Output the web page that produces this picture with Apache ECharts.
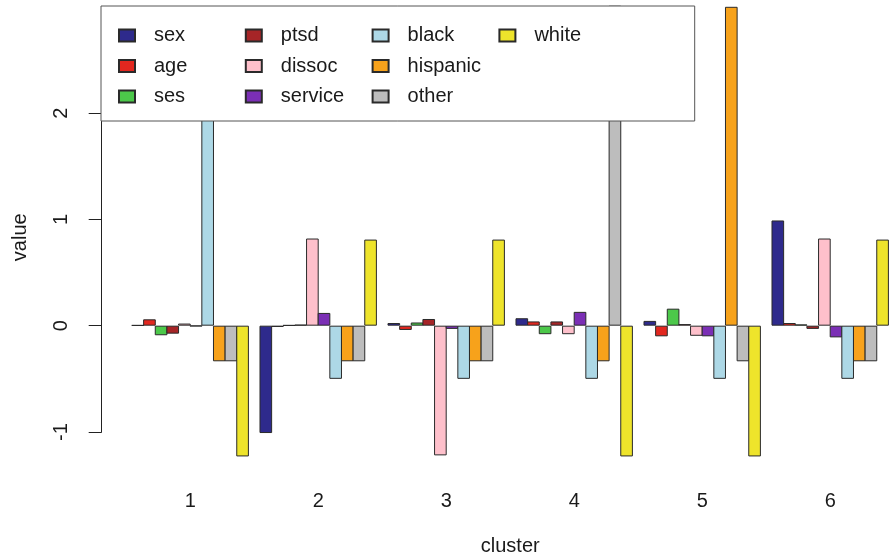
<!DOCTYPE html>
<html>
<head>
<meta charset="utf-8">
<script src="https://cdn.jsdelivr.net/npm/echarts@6/dist/echarts.min.js"></script>
<style>
  html, body { margin: 0; padding: 0; background: #fff; }
  #chart { width: 889px; height: 559px; }
</style>
</head>
<body>
<div id="chart"></div>
<script>
// Cluster profiles: standardized mean of each variable per cluster
const clusters = ['1', '2', '3', '4', '5', '6'];
const yTicks = [-1, 0, 1, 2];

const sex      = [0.005, -1.01, 0.025, 0.07, 0.045, 0.99];
const age      = [0.06, -0.012, -0.04, 0.04, -0.10, 0.025];
const ses      = [-0.09, 0.005, 0.03, -0.08, 0.16, 0.012];
const ptsd     = [-0.075, 0.01, 0.063, 0.04, 0.015, -0.03];
const dissoc   = [0.02, 0.82, -1.22, -0.08, -0.095, 0.82];
const service  = [-0.005, 0.12, -0.03, 0.13, -0.10, -0.11];
const black    = [2.0, -0.5, -0.5, -0.5, -0.5, -0.5];
const hispanic = [-0.335, -0.335, -0.335, -0.335, 3.0, -0.335];
const other    = [-0.335, -0.335, -0.335, 3.01, -0.335, -0.335];
const white    = [-1.23, 0.81, 0.81, -1.23, -1.23, 0.81];

const seriesNames  = ['sex', 'age', 'ses', 'ptsd', 'dissoc', 'service', 'black', 'hispanic', 'other', 'white'];
const seriesValues = [sex, age, ses, ptsd, dissoc, service, black, hispanic, other, white];
const seriesColors = ['#2e2a8c', '#e2271f', '#4cc84a', '#a62527', '#fec0cb',
                      '#7b2fb5', '#add8e6', '#f7a21b', '#bdbdbd', '#eee42b'];

const FONT = "'Liberation Sans', Arial, Helvetica, sans-serif";
const INK = '#1a1a1a';

const chart = echarts.init(document.getElementById('chart'), null, { renderer: 'canvas' });

// Neighbouring bars overlap by one border width so that they share a single outline
const series = seriesNames.map((name, i) => ({
  name: name,
  type: 'bar',
  xAxisIndex: 0,
  yAxisIndex: 0,
  data: seriesValues[i],
  barGap: '-7.91%',
  barCategoryGap: '8.28%',
  itemStyle: { color: seriesColors[i], borderColor: '#2a2a2a', borderWidth: 1 },
  emphasis: { disabled: true },
  silent: true,
  clip: false
}));

chart.setOption({
  animation: false,
  backgroundColor: '#fff',
  textStyle: { fontFamily: FONT },
  grid: [
    // bar area: one band per cluster
    { left: 126.2, right: -5.2, top: 0, bottom: 84.5, containLabel: false, outerBoundsMode: 'none' },
    // y axis drawn only over the tick range
    { left: 101.7, right: -29.8, top: 113.1, bottom: 127, containLabel: false, outerBoundsMode: 'none' }
  ],
  xAxis: [
    {
      gridIndex: 0,
      type: 'category',
      data: clusters,
      axisLine: { show: false },
      axisTick: { show: false },
      splitLine: { show: false },
      axisLabel: { fontSize: 20, color: INK, margin: 17, fontFamily: FONT }
    },
    {
      gridIndex: 1,
      type: 'value',
      min: 0, max: 1,
      name: 'cluster',
      nameLocation: 'middle',
      nameGap: 104,
      nameTextStyle: { fontSize: 20, color: INK, fontFamily: FONT },
      axisLine: { show: false },
      axisTick: { show: false },
      axisLabel: { show: false },
      splitLine: { show: false }
    }
  ],
  yAxis: [
    {
      gridIndex: 0,
      type: 'value',
      min: -1.4, max: 3.064,
      name: 'value',
      nameLocation: 'middle',
      nameRotate: 90,
      nameGap: 96,
      nameTextStyle: { fontSize: 20, color: INK, fontFamily: FONT },
      axisLine: { show: false },
      axisTick: { show: false },
      axisLabel: { show: false },
      splitLine: { show: false }
    },
    {
      gridIndex: 1,
      type: 'value',
      min: yTicks[0], max: yTicks[yTicks.length - 1], interval: 1,
      axisLine: { show: true, lineStyle: { color: '#222', width: 1 } },
      axisTick: { show: true, inside: false, length: 13, lineStyle: { color: '#222', width: 1 } },
      axisLabel: { fontSize: 20, color: INK, rotate: 90, margin: 30, fontFamily: FONT },
      splitLine: { show: false }
    }
  ],
  legend: {
    data: seriesNames,
    orient: 'vertical',
    left: 101,
    top: 6,
    height: 82,
    padding: [19.5, 80, 14.5, 17],
    itemGap: 10.5,
    itemWidth: 16,
    itemHeight: 12,
    icon: 'rect',
    selectedMode: false,
    backgroundColor: '#fff',
    borderColor: '#555',
    borderWidth: 1,
    borderRadius: 0,
    textStyle: {
      fontSize: 20, lineHeight: 20, color: INK, fontFamily: FONT,
      width: 80.3, padding: [0, 0, 0, 14]
    }
  },
  series: series
});
</script>
</body>
</html>
